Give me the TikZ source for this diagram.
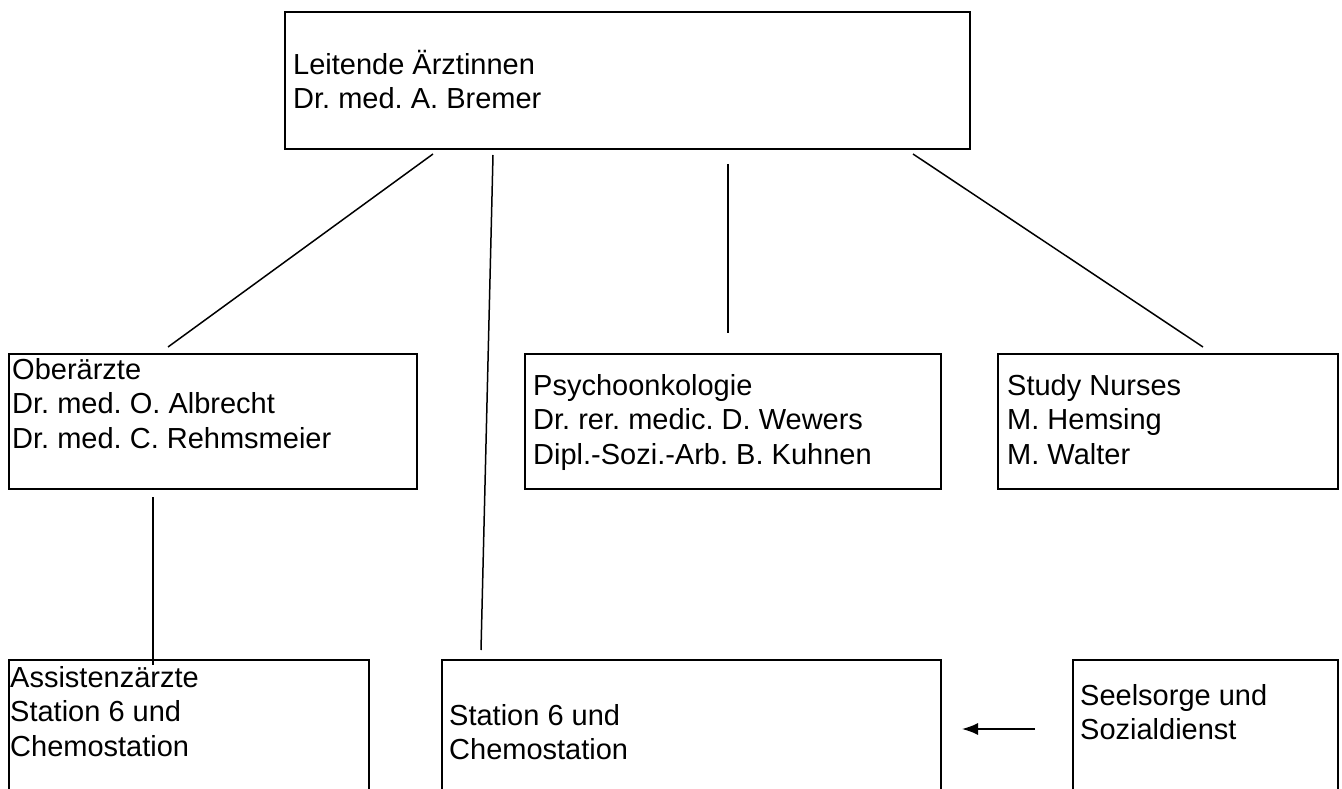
\documentclass[tikz,border=0pt]{standalone}
\usepackage{fontspec}
\setmainfont{Liberation Sans}
\usepackage{tikz}
\usetikzlibrary{arrows.meta,positioning}
\frenchspacing

\begin{document}
\begin{tikzpicture}[x=1pt,y=-1pt,
    box/.style={draw, line width=2pt, inner sep=0pt, anchor=north west},
    txt/.style={inner sep=0pt, align=left, font=\fontsize{29pt}{34.5pt}\selectfont,
                execute at begin node={\rule{0pt}{26pt}}},
    link/.style={line width=1.5pt}]
  \useasboundingbox (0,0) rectangle (1342,789);
  \clip (0,0) rectangle (1342,789);

  \node[box, minimum width=685pt, minimum height=137pt] (lead) at (284,11) {};
  \node[box, minimum width=408pt, minimum height=135pt] (ober) at (8,353) {};
  \node[box, minimum width=416pt, minimum height=135pt] (psy) at (524,353) {};
  \node[box, minimum width=340pt, minimum height=135pt] (nurse) at (997,353) {};
  \node[box, minimum width=360pt, minimum height=160pt] (assi) at (8,659) {};
  \node[box, minimum width=499pt, minimum height=160pt] (stat) at (441,659) {};
  \node[box, minimum width=265pt, minimum height=160pt] (seel) at (1072,659) {};

  \node[txt, below right=39pt and 9pt of lead.north west] (leadtext)
    {Leitende Ärztinnen\\Dr. med. A. Bremer};
  \node[txt, below right=5pt and 4pt of ober.north west] (obertext)
    {Oberärzte\\Dr. med. O. Albrecht\\Dr. med. C. Rehmsmeier};
  \node[txt, below right=21pt and 9pt of psy.north west] (psytext)
    {Psychoonkologie\\Dr. rer. medic. D. Wewers\\Dipl.-Sozi.-Arb. B. Kuhnen};
  \node[txt, below right=21pt and 10pt of nurse.north west] (nursetext)
    {Study Nurses\\M. Hemsing\\M. Walter};
  \node[txt, below right=7pt and 2pt of assi.north west] (assitext)
    {Assistenzärzte\\Station 6 und\\Chemostation};
  \node[txt, below right=45pt and 8pt of stat.north west] (stattext)
    {Station 6 und\\Chemostation};
  \node[txt, below right=25pt and 8pt of seel.north west] (seeltext)
    {Seelsorge und\\Sozialdienst};

  \coordinate (l1a) at (433,154);
  \coordinate (l1b) at (168,347);
  \coordinate (l2a) at (493,155);
  \coordinate (l2b) at (481,650);
  \coordinate (l3a) at (728,164);
  \coordinate (l3b) at (728,333);
  \coordinate (l4a) at (913,154);
  \coordinate (l4b) at (1203,347);
  \coordinate (l5a) at (153,497);
  \coordinate (l5b) at (153,665);
  \coordinate (arra) at (1035,729);
  \coordinate (arrb) at (962,729);

  \draw[link] (l1a) -- (l1b);
  \draw[link] (l2a) -- (l2b);
  \draw[link] (l3a) -- (l3b);
  \draw[link] (l4a) -- (l4b);
  \draw[link] (l5a) -- (l5b);
  \draw[link, -{Latex[length=16pt,width=12pt]}] (arra) -- (arrb);
\end{tikzpicture}
\end{document}
